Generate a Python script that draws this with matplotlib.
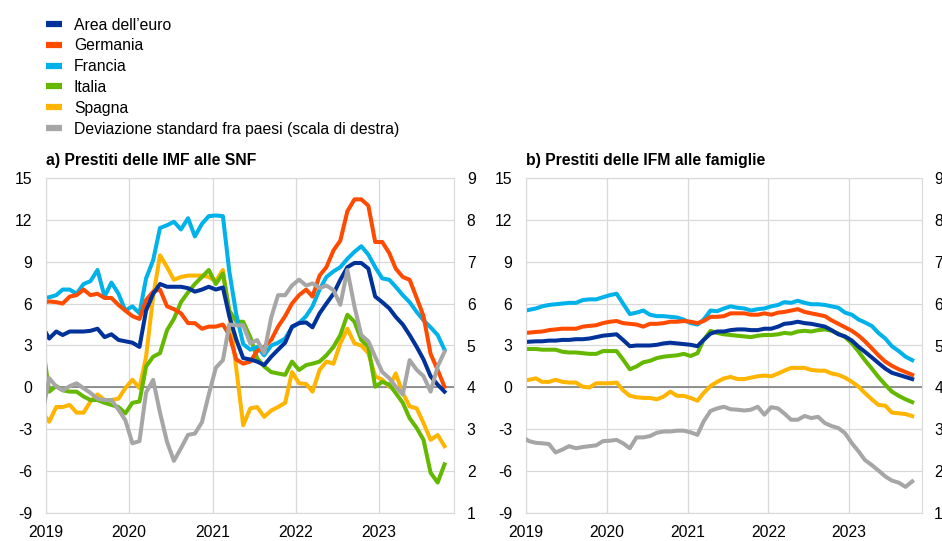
import matplotlib
matplotlib.use("Agg")
import matplotlib.pyplot as plt
import pandas as pd
from matplotlib.lines import Line2D

plt.rcParams["font.family"] = ["Liberation Sans", "DejaVu Sans"]
plt.rcParams["axes.unicode_minus"] = False
plt.rcParams["font.size"] = 11.3

# monthly observations, Dec 2018 - Oct 2023 (plotted mid-month)
dates = pd.date_range("2018-12-01", periods=59, freq="MS") + pd.Timedelta(days=14)

labels = ["Area dell\u2019euro", "Germania", "Francia", "Italia", "Spagna",
          "Deviazione standard fra paesi (scala di destra)"]
colors = ["#003299", "#ff4b00", "#00b1ea", "#65b800", "#ffb400", "#a6a6a6"]

# a) loans to NFCs, annual % change
area_a = [4.4,
          3.5, 4.0, 3.75, 4.0, 4.0, 4.0, 4.05, 4.2, 3.6, 3.8,
          3.4, 3.3, 3.2, 2.9, 5.5, 6.7, 7.4, 7.2, 7.2, 7.2,
          7.1, 6.85, 7.0, 7.2, 7.0, 7.15, 5.1, 3.4, 2.1, 2.0,
          1.85, 1.6, 2.2, 2.7, 3.2, 4.35, 4.6, 4.65, 4.3, 5.3,
          6.0, 6.7, 7.7, 8.6, 8.9, 8.9, 8.5, 6.5, 6.1, 5.65,
          5.05, 4.5, 3.75, 2.9, 2.0, 0.8, 0.2, -0.3]
germ_a = [6.05,
          6.15, 6.1, 6.0, 6.5, 6.6, 7.0, 6.6, 6.7, 6.4, 6.4,
          5.9, 5.5, 5.1, 4.9, 6.25, 6.85, 7.0, 5.8, 5.6, 5.3,
          4.6, 4.6, 4.2, 4.35, 4.35, 4.5, 3.75, 2.0, 1.7, 1.85,
          2.6, 2.9, 3.4, 4.35, 5.1, 6.0, 6.6, 7.0, 6.5, 8.0,
          8.6, 9.8, 10.5, 12.6, 13.45, 13.45, 13.0, 10.4, 10.4, 9.6,
          8.5, 7.9, 7.7, 6.4, 5.1, 2.4, 1.25, 0.05]
fran_a = [6.4,
          6.45, 6.6, 7.0, 7.0, 6.7, 7.4, 7.6, 8.4, 6.5, 7.5,
          6.7, 5.5, 5.8, 5.3, 7.8, 9.1, 11.4, 11.6, 11.85, 11.3,
          12.1, 10.8, 11.7, 12.25, 12.3, 12.25, 8.3, 5.2, 3.1, 2.7,
          2.9, 2.3, 3.0, 3.2, 3.5, 4.3, 4.6, 5.1, 5.8, 7.0,
          7.9, 8.3, 8.6, 9.2, 9.7, 10.1, 9.5, 8.6, 7.8, 7.7,
          7.2, 6.6, 6.1, 5.4, 4.8, 4.3, 3.75, 2.7]
ital_a = [3.3,
          -0.3, 0.1, -0.2, -0.3, -0.3, -0.65, -0.9, -0.9, -1.1, -1.25,
          -1.4, -1.85, -1.1, -1.0, 1.5, 2.2, 2.45, 4.1, 4.9, 6.1,
          6.8, 7.4, 7.9, 8.4, 7.4, 8.15, 5.5, 4.7, 4.7, 3.6,
          2.1, 1.5, 1.1, 1.0, 0.9, 1.85, 1.25, 1.6, 1.7, 1.85,
          2.3, 2.9, 3.75, 5.2, 4.7, 3.4, 2.9, 0.05, 0.4, 0.2,
          -0.4, -1.1, -2.2, -2.9, -3.75, -6.1, -6.8, -5.5]
spag_a = [-1.75,
          -2.45, -1.4, -1.4, -1.25, -1.8, -1.8, -1.0, -0.5, -0.9, -0.9,
          -0.8, -0.05, 0.55, -0.05, 2.2, 6.5, 9.45, 8.6, 7.7, 7.9,
          8.0, 8.0, 8.0, 7.9, 7.6, 8.4, 5.3, 1.3, -2.7, -1.5,
          -1.4, -2.1, -1.65, -1.4, -1.1, 1.1, 0.3, 0.25, -0.3, 1.25,
          1.85, 1.7, 3.15, 4.2, 3.15, 3.0, 2.45, 0.8, 0.55, 0.05,
          1.0, -0.4, -1.35, -1.5, -2.55, -3.75, -3.4, -4.2]
dev_a = [3.35,
         4.22, 4.02, 3.93, 4.03, 4.10, 3.98, 3.87, 3.73, 3.70, 3.70,
         3.47, 3.22, 2.67, 2.72, 3.88, 4.18, 3.40, 2.70, 2.25, 2.55,
         2.87, 2.90, 3.17, 3.83, 4.47, 4.65, 5.50, 5.48, 5.48, 5.05,
         5.13, 4.82, 5.67, 6.20, 6.20, 6.43, 6.57, 6.43, 6.48, 6.37,
         6.43, 6.32, 5.97, 6.80, 5.93, 5.25, 5.10, 4.73, 4.37, 4.22,
         4.02, 3.83, 4.65, 4.42, 4.27, 3.90, 4.50, 4.85]

# b) loans to households, annual % change
area_b = [3.23,
          3.27, 3.3, 3.3, 3.35, 3.35, 3.4, 3.4, 3.45, 3.45, 3.5,
          3.6, 3.7, 3.75, 3.8, 3.4, 2.95, 3.0, 3.0, 3.0, 3.05,
          3.15, 3.2, 3.15, 3.1, 3.05, 2.95, 3.4, 3.85, 4.0, 4.0,
          4.1, 4.15, 4.15, 4.1, 4.1, 4.2, 4.2, 4.35, 4.55, 4.6,
          4.7, 4.6, 4.55, 4.45, 4.35, 4.1, 3.8, 3.65, 3.35, 2.9,
          2.55, 2.15, 1.75, 1.35, 1.05, 0.9, 0.75, 0.6]
germ_b = [3.88,
          3.92, 3.97, 4.0, 4.1, 4.15, 4.2, 4.2, 4.2, 4.35, 4.4,
          4.45, 4.6, 4.7, 4.75, 4.6, 4.55, 4.5, 4.35, 4.55, 4.55,
          4.6, 4.7, 4.7, 4.75, 4.7, 4.6, 4.75, 5.05, 5.05, 5.1,
          5.3, 5.3, 5.3, 5.2, 5.2, 5.3, 5.2, 5.35, 5.4, 5.5,
          5.6, 5.4, 5.3, 5.2, 5.1, 4.8, 4.55, 4.3, 4.05, 3.7,
          3.3, 2.8, 2.3, 1.85, 1.55, 1.3, 1.1, 0.9]
fran_b = [5.45,
          5.55, 5.65, 5.8, 5.9, 5.95, 6.0, 6.05, 6.05, 6.25, 6.3,
          6.3, 6.45, 6.6, 6.7, 6.0, 5.25, 5.35, 5.5, 5.2, 5.1,
          5.1, 5.05, 5.0, 4.85, 4.6, 4.5, 4.85, 5.5, 5.45, 5.65,
          5.8, 5.7, 5.65, 5.5, 5.6, 5.65, 5.8, 5.9, 6.1, 6.05,
          6.2, 6.05, 5.95, 5.95, 5.9, 5.8, 5.7, 5.35, 5.2, 4.85,
          4.65, 4.4, 3.9, 3.5, 2.95, 2.6, 2.2, 1.95]
ital_b = [2.75,
          2.75, 2.75, 2.7, 2.7, 2.7, 2.55, 2.5, 2.5, 2.45, 2.4,
          2.4, 2.6, 2.6, 2.6, 2.0, 1.3, 1.5, 1.8, 1.9, 2.1,
          2.2, 2.25, 2.3, 2.4, 2.25, 2.45, 3.4, 4.05, 3.9, 3.8,
          3.75, 3.7, 3.65, 3.6, 3.7, 3.75, 3.75, 3.8, 3.9, 3.85,
          4.0, 4.05, 4.0, 4.1, 4.15, 4.05, 3.85, 3.6, 3.15, 2.55,
          1.95, 1.35, 0.75, 0.2, -0.3, -0.6, -0.85, -1.05]
spag_b = [0.45,
          0.55, 0.65, 0.4, 0.4, 0.55, 0.4, 0.35, 0.35, 0.05, 0.0,
          0.3, 0.3, 0.3, 0.35, -0.2, -0.6, -0.7, -0.75, -0.75, -0.85,
          -0.65, -0.3, -0.6, -0.6, -0.75, -0.95, -0.4, 0.1, 0.4, 0.65,
          0.75, 0.6, 0.6, 0.7, 0.8, 0.85, 0.8, 1.0, 1.2, 1.4,
          1.4, 1.4, 1.25, 1.2, 1.2, 1.0, 0.9, 0.7, 0.4, 0.05,
          -0.4, -0.85, -1.25, -1.3, -1.8, -1.85, -1.9, -2.05]
dev_b = [2.82,
         2.72, 2.68, 2.67, 2.65, 2.45, 2.52, 2.60, 2.55, 2.58, 2.60,
         2.62, 2.72, 2.73, 2.75, 2.67, 2.55, 2.81, 2.81, 2.84, 2.92,
         2.95, 2.95, 2.97, 2.97, 2.93, 2.87, 3.19, 3.44, 3.50, 3.54,
         3.48, 3.47, 3.45, 3.47, 3.54, 3.35, 3.53, 3.50, 3.38, 3.23,
         3.23, 3.32, 3.27, 3.30, 3.15, 3.08, 3.03, 2.91, 2.67, 2.47,
         2.27, 2.15, 2.02, 1.88, 1.78, 1.73, 1.63, 1.76]

years = ["2019", "2020", "2021", "2022", "2023"]
left_ticks = [-9, -6, -3, 0, 3, 6, 9, 12, 15]
right_ticks = [1, 2, 3, 4, 5, 6, 7, 8, 9]

grid_col = "#d9d9d9"


def draw_panel(ax, countries, dev, title, title_x):
    # countries drawn from last to first so euro area ends up on top
    for vals, col in reversed(list(zip(countries, colors[:5]))):
        ax.plot(dates, vals, color=col, lw=2.9, solid_joinstyle="round")
    ax.axhline(0, color="#808080", lw=1.2, zorder=1.5)
    ax.set_ylim(-9, 15)
    ax.set_yticks(left_ticks)
    ax.set_xlim(pd.Timestamp("2019-01-01"), pd.Timestamp("2023-11-27"))
    ax.set_xticks(pd.to_datetime([y + "-01-01" for y in years]))
    ax.set_xticklabels(years)
    ax.grid(True, color=grid_col, lw=0.9)
    ax.set_axisbelow(True)
    for s in ax.spines.values():
        s.set_color(grid_col)
    ax.tick_params(axis="both", length=0, labelsize=11.3)
    ax.tick_params(axis="y", pad=10)
    ax.tick_params(axis="x", pad=8.5)

    ax2 = ax.twinx()
    ax2.plot(dates, dev, color=colors[5], lw=2.9, solid_joinstyle="round")
    ax2.set_ylim(1, 9)
    ax2.set_yticks(right_ticks)
    ax2.tick_params(axis="y", length=0, pad=9, labelsize=11.3)
    for s in ax2.spines.values():
        s.set_visible(False)
    ax2.set_xlim(ax.get_xlim())

    fig.text(title_x, 1 - 160.5 / 541, title, fontweight="bold",
             fontsize=11.3, ha="left", va="center")


fig = plt.figure(figsize=(9.42, 5.41), dpi=100)
bottom = 1 - 513.3 / 541
height = 335.6 / 541
ax_a = fig.add_axes([46 / 942, bottom, 408.3 / 942, height])
ax_b = fig.add_axes([526 / 942, bottom, 395.7 / 942, height])

draw_panel(ax_a, [area_a, germ_a, fran_a, ital_a, spag_a], dev_a,
           "a) Prestiti delle IMF alle SNF", 46 / 942)
draw_panel(ax_b, [area_b, germ_b, fran_b, ital_b, spag_b], dev_b,
           "b) Prestiti delle IFM alle famiglie", 526 / 942)

handles = [Line2D([0], [0], color=c, lw=4.5, solid_capstyle="butt") for c in colors]
fig.legend(handles, labels, loc="upper left", bbox_to_anchor=(46 / 942, 1 - 17.5 / 541),
           frameon=False, fontsize=11.3, handlelength=1.05, handletextpad=0.72,
           labelspacing=0.37, borderpad=0, borderaxespad=0)

fig.savefig("out.png", dpi=100)
